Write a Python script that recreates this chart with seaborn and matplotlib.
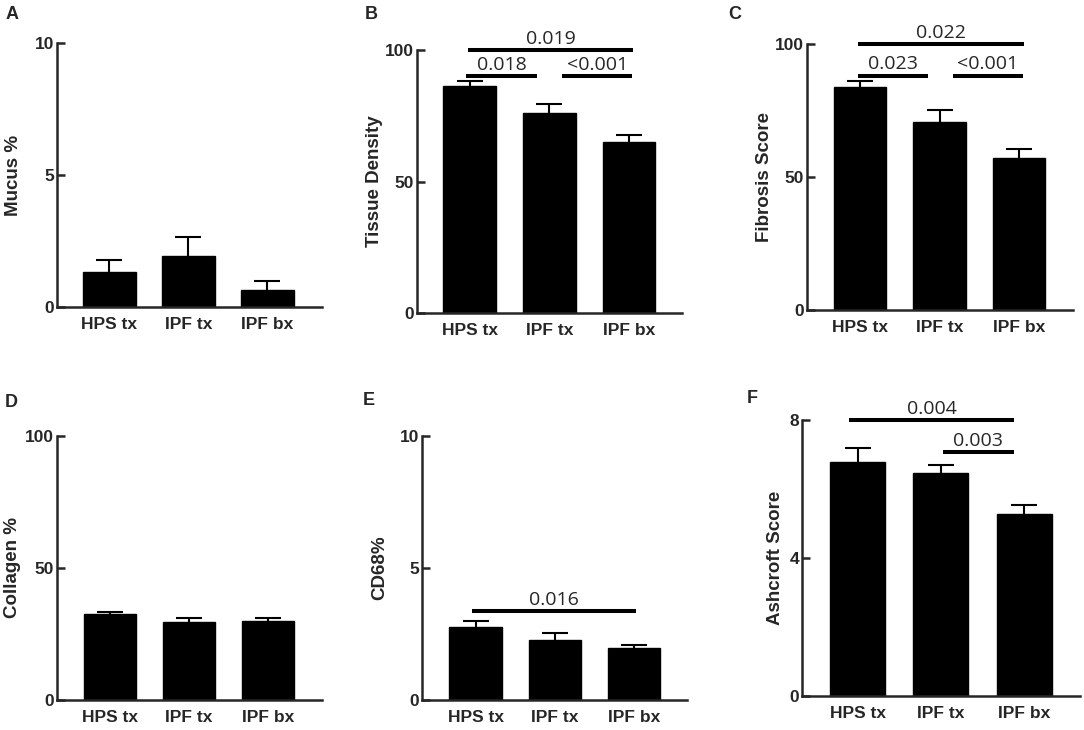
import matplotlib
matplotlib.use("Agg")
import matplotlib.pyplot as plt
import seaborn as sns
import pandas as pd

# ---------------- data ----------------
categories = ["HPS tx", "IPF tx", "IPF bx"]

mucus_mean = [1.34, 1.92, 0.64]
mucus_sem = [0.44, 0.72, 0.36]

density_mean = [86.4, 76.1, 64.9]
density_sem = [1.8, 3.4, 2.8]

fibrosis_mean = [83.7, 70.8, 57.3]
fibrosis_sem = [2.5, 4.4, 3.2]

collagen_mean = [32.4, 29.4, 29.9]
collagen_sem = [0.8, 1.8, 1.3]

cd68_mean = [2.75, 2.26, 1.98]
cd68_sem = [0.23, 0.28, 0.12]

ashcroft_mean = [6.79, 6.45, 5.28]
ashcroft_sem = [0.39, 0.24, 0.26]

panel_letters = ["A", "B", "C", "D", "E", "F"]
y_labels = ["Mucus %", "Tissue Density", "Fibrosis Score", "Collagen %", "CD68%", "Ashcroft Score"]
y_max = [10, 100, 100, 100, 10, 8]
y_ticks = [[0, 5, 10], [0, 50, 100], [0, 50, 100], [0, 50, 100], [0, 5, 10], [0, 4, 8]]

# p-value brackets: (x start, x end, y level, label)
brackets_B = [(-0.02, 2.05, 100, "0.019"), (-0.04, 0.85, 90.1, "0.018"), (1.16, 2.04, 90.1, "<0.001")]
brackets_C = [(-0.02, 2.06, 100, "0.022"), (-0.03, 0.86, 88.1, "0.023"), (1.17, 2.05, 88.1, "<0.001")]
brackets_E = [(-0.05, 2.03, 3.38, "0.016")]
brackets_F = [(-0.10, 1.88, 8.0, "0.004"), (1.02, 1.88, 7.06, "0.003")]

means = [mucus_mean, density_mean, fibrosis_mean, collagen_mean, cd68_mean, ashcroft_mean]
sems = [mucus_sem, density_sem, fibrosis_sem, collagen_sem, cd68_sem, ashcroft_sem]
brackets = [[], brackets_B, brackets_C, [], brackets_E, brackets_F]

# ---------------- style ----------------
sns.set_style("ticks")
plt.rcParams["font.family"] = ["Liberation Sans", "DejaVu Sans"]

W, H = 1084, 730
fig = plt.figure(figsize=(W / 100, H / 100), dpi=100)

# layout in pixels: left, right, top, bottom, first bar centre, bar spacing, ylabel anchor x, letter (x, baseline)
layout = [
    (57, 322, 43, 307, 109.5, 79.0, 22, (6, 19)),
    (417, 682, 50, 313, 469.5, 79.75, 383, (365, 19)),
    (807, 1073, 44, 310, 860.0, 79.5, 773, (728, 19)),
    (57, 322, 436, 700, 109.7, 79.2, 21, (5, 407)),
    (422, 687, 436, 700, 475.5, 79.3, 388, (363, 405)),
    (802, 1080, 420, 696, 857.5, 83.4, 784, (747, 403)),
]

for i in range(6):
    left, right, top, bottom, c0, sp, ylx, (lx, ly) = layout[i]
    ax = fig.add_axes([left / W, 1 - bottom / H, (right - left) / W, (bottom - top) / H])
    df = pd.DataFrame({"group": categories, "value": means[i]})
    ax.errorbar(x=range(3), y=means[i], yerr=sems[i], fmt="none", ecolor="black",
                elinewidth=1.5, capsize=9.7, capthick=1.5, zorder=0.5)
    sns.barplot(data=df, x="group", y="value", ax=ax, color="black", width=0.66,
                errorbar=None, edgecolor="black", linewidth=1, saturation=1, zorder=1)
    ax.set_xlim((left - c0) / sp, (right - c0) / sp)
    ax.set_ylim(0, y_max[i])
    ax.set_yticks(y_ticks[i])
    ax.set_yticklabels([str(t) for t in y_ticks[i]], fontsize=12.5, fontweight="bold")
    ax.set_xticks(range(3))
    ax.set_xticklabels(categories, fontsize=12.5, fontweight="bold")
    ax.tick_params(axis="y", direction="in", length=6, width=1.8, pad=2)
    ax.tick_params(axis="x", length=0, pad=7)
    ax.set_xlabel("")
    ax.set_ylabel(y_labels[i], fontsize=13.5, fontweight="bold")
    ax.yaxis.set_label_coords((ylx - left) / (right - left), 0.5)
    for s in ["top", "right"]:
        ax.spines[s].set_visible(False)
    for s in ["left", "bottom"]:
        ax.spines[s].set_linewidth(1.8)
    ax.patch.set_alpha(0)

    for (x1, x2, yv, lab) in brackets[i]:
        ax.plot([x1, x2], [yv, yv], color="black", lw=2.9, solid_capstyle="butt",
                clip_on=False, zorder=3)
        ax.annotate(lab, xy=((x1 + x2) / 2, yv), xytext=(0, 4.5), textcoords="offset points",
                    ha="center", va="baseline", fontsize=14, family=["Open Sans", "DejaVu Sans"],
                    annotation_clip=False)

    fig.text(lx / W, 1 - ly / H, panel_letters[i], fontsize=13, fontweight="bold",
             ha="left", va="baseline")

fig.savefig("out.png", dpi=100)
